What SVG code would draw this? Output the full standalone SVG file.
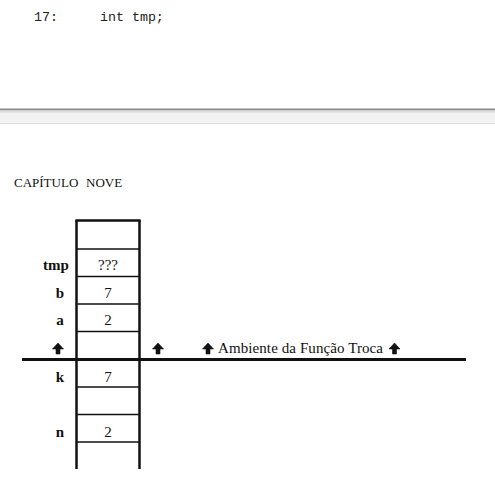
<svg xmlns="http://www.w3.org/2000/svg" width="495" height="479" viewBox="0 0 495 479">
<style>
.code{font-family:"Liberation Mono","Courier New",monospace;font-size:13.3px;fill:#222}
.cap{font-family:"Liberation Serif","Times New Roman",serif;font-size:13px;fill:#111}
.lbl{font-family:"Liberation Serif","Times New Roman",serif;font-size:15px;font-weight:bold;fill:#111;text-anchor:middle}
.val{font-family:"Liberation Serif","Times New Roman",serif;font-size:15px;fill:#111;text-anchor:middle}
.txt{font-family:"Liberation Serif","Times New Roman",serif;font-size:15px;fill:#111}
.thick{stroke:#111;stroke-width:2.5;fill:none}
.thin{stroke:#111;stroke-width:1.3;fill:none}
</style>
<defs>
<linearGradient id="band" x1="0" y1="0" x2="0" y2="1">
<stop offset="0" stop-color="#c8c8c8"/>
<stop offset="0.25" stop-color="#f0f0f0"/>
<stop offset="1" stop-color="#f4f4f4"/>
</linearGradient>
<path id="arr" d="M0,-5.5 L5.5,0.5 L2,0.5 L2,5.5 L-2,5.5 L-2,0.5 L-5.5,0.5 Z" fill="#111" stroke="#111" stroke-width="0.6" stroke-linejoin="round"/>
</defs>
<rect width="495" height="479" fill="#fff"/>
<text class="code" x="34" y="21">17:</text>
<text class="code" x="100" y="21">int tmp;</text>
<rect x="0" y="108.5" width="495" height="1.5" fill="#8a8a8a"/>
<rect x="0" y="110" width="495" height="13" fill="url(#band)"/>
<rect x="0" y="123" width="495" height="1" fill="#dcdcdc"/>
<text class="cap" x="14" y="187">CAPÍTULO<tspan x="86">NOVE</tspan></text>
<g id="connectors">
<line class="thick" x1="22" y1="359.5" x2="466" y2="359.5" style="stroke-width:3"/>
</g>
<g id="stack">
<line class="thick" x1="76.5" y1="220" x2="76.5" y2="469"/>
<line class="thick" x1="139.5" y1="220" x2="139.5" y2="469"/>
<line class="thick" x1="75.5" y1="220.5" x2="140.5" y2="220.5"/>
<line class="thin" x1="77" y1="249" x2="139" y2="249"/>
<line class="thin" x1="77" y1="276.5" x2="139" y2="276.5"/>
<line class="thin" x1="77" y1="304" x2="139" y2="304"/>
<line class="thin" x1="77" y1="331.5" x2="139" y2="331.5"/>
<line class="thin" x1="77" y1="387" x2="139" y2="387"/>
<line class="thin" x1="77" y1="414.5" x2="139" y2="414.5"/>
<line class="thin" x1="77" y1="442" x2="139" y2="442"/>
</g>
<g id="row-tmp"><text class="lbl" x="56" y="270">tmp</text><text class="val" x="108" y="270">???</text></g>
<g id="row-b"><text class="lbl" x="60" y="298">b</text><text class="val" x="108" y="298">7</text></g>
<g id="row-a"><text class="lbl" x="60" y="325">a</text><text class="val" x="108" y="325">2</text></g>
<g id="row-k"><text class="lbl" x="60" y="382">k</text><text class="val" x="108" y="382">7</text></g>
<g id="row-n"><text class="lbl" x="60" y="437">n</text><text class="val" x="108" y="437">2</text></g>
<g id="arrows">
<use href="#arr" x="58" y="348.5"/>
<use href="#arr" x="158" y="348.5"/>
<use href="#arr" x="208" y="348.5"/>
<use href="#arr" x="394.5" y="348.5"/>
</g>
<g id="label-env"><text class="txt" x="218" y="353" textLength="165">Ambiente da Função Troca</text></g>
</svg>
